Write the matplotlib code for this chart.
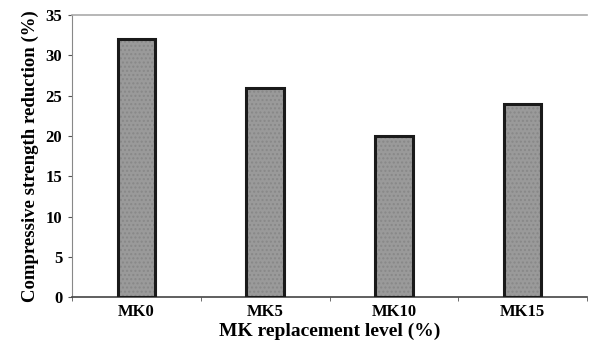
import numpy as np
import matplotlib.pyplot as plt

categories = ['MK0', 'MK5', 'MK10', 'MK15']
reduction = [32, 26, 20, 24]
y_ticks = [0, 5, 10, 15, 20, 25, 30, 35]

plt.rcParams['font.family'] = ['Liberation Serif', 'DejaVu Serif']
plt.rcParams['font.weight'] = 'bold'

fig = plt.figure(figsize=(5.9, 3.5), dpi=100)
ax = fig.add_axes([0.122, 0.151, 0.873, 0.806])

x = np.arange(len(categories))
# fill with a faint dotted texture, then the dark outline on top
ax.bar(x, reduction, width=0.29, color='#9a9a9a', edgecolor='#888888',
       hatch='....', linewidth=0, zorder=2)
ax.bar(x, reduction, width=0.29, fill=False, edgecolor='#1a1a1a',
       linewidth=2.2, zorder=3)

ax.set_xlim(-0.5, len(categories) - 0.5)
ax.set_ylim(0, 35)
ax.set_yticks(y_ticks)
ax.set_xticks(x)
ax.set_xticklabels(categories)
ax.set_xticks(np.arange(len(categories) + 1) - 0.5, minor=True)
ax.tick_params(axis='x', which='major', length=0, pad=5, labelsize=12)
ax.tick_params(axis='x', which='minor', length=3, color='#555555')
ax.tick_params(axis='y', length=3, color='#555555', labelsize=12, pad=4)

ax.spines['right'].set_visible(False)
ax.spines['top'].set_color('#aaaaaa')
ax.spines['top'].set_linewidth(1.2)
ax.spines['left'].set_color('#888888')
ax.spines['bottom'].set_color('#444444')
ax.spines['bottom'].set_linewidth(1.2)

ax.set_xlabel('MK replacement level (%)', fontsize=14, fontweight='bold', labelpad=2)
ax.set_ylabel('Compressive strength reduction (%)', fontsize=13.5, fontweight='bold', labelpad=5)

fig.savefig('out.png', dpi=100)
